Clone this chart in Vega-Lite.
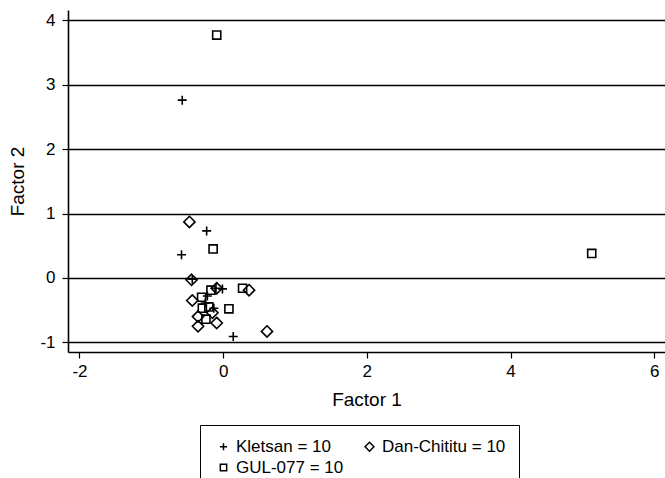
{
  "$schema": "https://vega.github.io/schema/vega-lite/v6.json",
  "autosize": "none",
  "width": 597,
  "height": 342,
  "padding": {"left": 68, "top": 10, "right": 0, "bottom": 126},
  "background": "white",
  "config": {
    "view": {"stroke": null},
    "font": "Liberation Sans",
    "axis": {
      "domainColor": "black",
      "domainWidth": 1.6,
      "tickColor": "black",
      "tickWidth": 1.2,
      "tickSize": 6,
      "labelColor": "black",
      "titleColor": "black",
      "labelFont": "Liberation Sans",
      "titleFont": "Liberation Sans",
      "labelFontSize": 17,
      "titleFontSize": 19,
      "titleFontWeight": "normal"
    },
    "legend": {
      "labelFont": "Liberation Sans",
      "labelFontSize": 17,
      "labelColor": "black"
    }
  },
  "data": {
    "values": [
      {"f1": -0.57, "f2": 2.76, "group": "Kletsan = 10"},
      {"f1": -0.23, "f2": 0.73, "group": "Kletsan = 10"},
      {"f1": -0.58, "f2": 0.36, "group": "Kletsan = 10"},
      {"f1": -0.43, "f2": -0.02, "group": "Kletsan = 10"},
      {"f1": -0.10, "f2": -0.16, "group": "Kletsan = 10"},
      {"f1": -0.01, "f2": -0.17, "group": "Kletsan = 10"},
      {"f1": -0.25, "f2": -0.39, "group": "Kletsan = 10"},
      {"f1": -0.13, "f2": -0.47, "group": "Kletsan = 10"},
      {"f1": 0.14, "f2": -0.91, "group": "Kletsan = 10"},
      {"f1": -0.22, "f2": -0.28, "group": "Kletsan = 10"},
      {"f1": -0.47, "f2": 0.87, "group": "Dan-Chititu = 10"},
      {"f1": -0.44, "f2": -0.03, "group": "Dan-Chititu = 10"},
      {"f1": -0.09, "f2": -0.16, "group": "Dan-Chititu = 10"},
      {"f1": 0.36, "f2": -0.19, "group": "Dan-Chititu = 10"},
      {"f1": -0.43, "f2": -0.35, "group": "Dan-Chititu = 10"},
      {"f1": -0.15, "f2": -0.54, "group": "Dan-Chititu = 10"},
      {"f1": -0.35, "f2": -0.60, "group": "Dan-Chititu = 10"},
      {"f1": -0.35, "f2": -0.75, "group": "Dan-Chititu = 10"},
      {"f1": -0.09, "f2": -0.70, "group": "Dan-Chititu = 10"},
      {"f1": 0.61, "f2": -0.83, "group": "Dan-Chititu = 10"},
      {"f1": -0.09, "f2": 3.77, "group": "GUL-077 = 10"},
      {"f1": 5.13, "f2": 0.38, "group": "GUL-077 = 10"},
      {"f1": -0.14, "f2": 0.45, "group": "GUL-077 = 10"},
      {"f1": -0.17, "f2": -0.19, "group": "GUL-077 = 10"},
      {"f1": 0.27, "f2": -0.16, "group": "GUL-077 = 10"},
      {"f1": -0.30, "f2": -0.30, "group": "GUL-077 = 10"},
      {"f1": -0.29, "f2": -0.47, "group": "GUL-077 = 10"},
      {"f1": -0.20, "f2": -0.45, "group": "GUL-077 = 10"},
      {"f1": 0.08, "f2": -0.48, "group": "GUL-077 = 10"},
      {"f1": -0.24, "f2": -0.64, "group": "GUL-077 = 10"}
    ]
  },
  "mark": {"type": "point", "filled": false, "color": "black", "strokeWidth": 1.6, "opacity": 1, "size": 81},
  "encoding": {
    "x": {
      "field": "f1", "type": "quantitative",
      "scale": {"domain": [-2.16, 6.15], "nice": false, "zero": false},
      "axis": {"title": "Factor 1", "values": [-2, 0, 2, 4, 6], "grid": false, "labelPadding": 5, "titlePadding": 11, "labelExpr": "'' + datum.value"}
    },
    "y": {
      "field": "f2", "type": "quantitative",
      "scale": {"domain": [-1.15, 4.16], "nice": false, "zero": false},
      "axis": {"title": "Factor 2", "values": [-1, 0, 1, 2, 3, 4], "grid": true, "gridColor": "black", "gridWidth": 1.5, "gridOpacity": 1, "labelPadding": 7, "titlePadding": 12, "labelExpr": "'' + datum.value"}
    },
    "shape": {
      "field": "group", "type": "nominal",
      "scale": {"domain": ["Kletsan = 10", "GUL-077 = 10", "Dan-Chititu = 10"], "range": ["M-1,0L1,0M0,-1L0,1", "M-0.9,-0.9L0.9,-0.9L0.9,0.9L-0.9,0.9Z", "M0,-1.25L1.25,0L0,1.25L-1.25,0Z"]},
      "legend": {
        "title": null,
        "orient": "none",
        "legendX": 132,
        "legendY": 415,
        "columns": 2,
        "columnPadding": 15,
        "rowPadding": 3,
        "padding": 13,
        "strokeColor": "black",
        "symbolSize": 50,
        "symbolStrokeWidth": 1.5,
        "symbolStrokeColor": "black",
        "symbolOffset": 2
      }
    }
  }
}
